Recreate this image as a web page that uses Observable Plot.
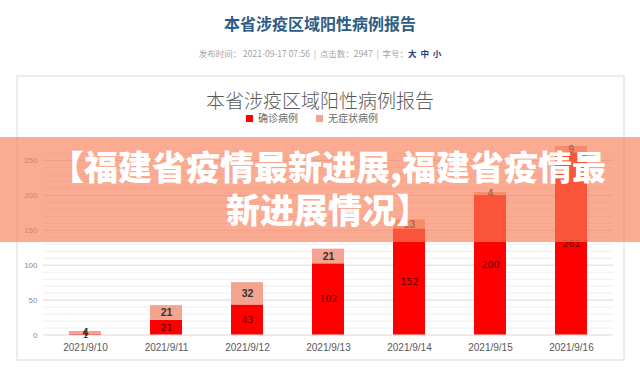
<!DOCTYPE html>
<html><head><meta charset="utf-8">
<script src="https://cdn.jsdelivr.net/npm/d3@7"></script>
<script src="https://cdn.jsdelivr.net/npm/@observablehq/plot@0.6"></script>
<style>
html,body{margin:0;padding:0;}
body{width:640px;height:378px;overflow:hidden;background:#fff;position:relative;font-family:"Noto Sans CJK SC","Noto Sans",sans-serif;}
#pagetitle{position:absolute;left:0;width:640px;top:12px;text-align:center;font-size:16px;font-weight:bold;color:#2f5c86;line-height:22px;}
#meta{position:absolute;left:0;width:640px;top:46px;text-align:center;font-size:8.5px;color:#a3a3a3;line-height:14px;white-space:pre;}
#meta b{color:#1f3c88;font-weight:bold;}
#box{position:absolute;left:16px;top:75px;width:605px;height:282px;border:2px solid #ececec;}
#ctitle{position:absolute;left:0;width:640px;top:88px;text-align:center;font-size:19px;font-weight:300;color:#595959;line-height:24px;}
#legend{position:absolute;left:-8px;width:640px;top:111px;text-align:center;font-size:10px;color:#6b6b6b;line-height:14px;}
#legend span.sw{display:inline-block;width:7px;height:7px;margin-right:5px;vertical-align:0px;}
#legend span.item{margin:0 9px;}
#chart{position:absolute;left:0;top:130px;}
#banner{position:absolute;left:0;top:137px;width:640px;height:105px;background:rgba(247,128,88,0.66);z-index:5;}
#btext{position:absolute;left:8px;width:640px;top:7px;text-align:center;font-size:34px;line-height:43px;font-weight:900;color:#fff;white-space:nowrap;}
</style></head><body>
<div id="pagetitle">本省涉疫区域阳性病例报告</div>
<div id="meta">发布时间： 2021-09-17 07:56  |  点击数：2947  |  字号：<b>大  中  小</b></div>
<div id="box"></div>
<div id="ctitle">本省涉疫区域阳性病例报告</div>
<div id="legend"></div>
<div id="chart"></div>
<div id="banner"><div id="btext">【福建省疫情最新进展,福建省疫情最<br>新进展情况】</div></div>
<script>
const dates = ["2021/9/10","2021/9/11","2021/9/12","2021/9/13","2021/9/14","2021/9/15","2021/9/16"];
const confirmed = [1, 21, 43, 102, 152, 200, 261];
const asymptomatic = [4, 21, 32, 21, 13, 4, 9];
const seriesNames = ["确诊病例", "无症状病例"];
const seriesColors = ["#ff0000", "#f4a38e"];
const yTicks = [0, 50, 100, 150, 200, 250];
const yMinorTicks = d3.range(10, 270, 10).filter(v => v % 50 !== 0);

const rows = dates.flatMap((d, i) => [
  {date: d, series: seriesNames[0], value: confirmed[i]},
  {date: d, series: seriesNames[1], value: asymptomatic[i]}
]);

document.getElementById("legend").innerHTML = seriesNames.map((s, i) =>
  `<span class="item"><span class="sw" style="background:${seriesColors[i]}"></span>${s}</span>`).join("");

const FONT = "Liberation Sans, Arial, sans-serif";
const plot = Plot.plot({
  width: 640,
  height: 230,
  marginLeft: 43,
  marginRight: 27,
  marginTop: 30,
  marginBottom: 25.5,
  style: "background: transparent; overflow: visible;",
  x: {domain: dates, paddingInner: 0.6, paddingOuter: 0.3},
  y: {domain: [0, 250]},
  color: {domain: seriesNames, range: seriesColors},
  marks: [
    Plot.gridY(yMinorTicks, {stroke: "#eeeeee", strokeOpacity: 1}),
    Plot.gridY(yTicks, {stroke: "#d9d9d9", strokeOpacity: 1}),
    Plot.barY(rows, {x: "date", y: "value", fill: "series", z: "series"}),
    Plot.text(rows, Plot.stackY({x: "date", y: "value", z: "series",
      text: d => d.series === seriesNames[0] ? d.value : null,
      fill: "#5a0000", fontSize: 9.5, fontFamily: "DejaVu Sans, sans-serif"})),
    Plot.text(rows, Plot.stackY({x: "date", y: "value", z: "series",
      text: d => d.series === seriesNames[1] ? d.value : null,
      fill: "#333333", fontSize: 10.5, fontWeight: "bold", fontFamily: FONT})),
    Plot.axisY(yTicks, {tickSize: 0, tickPadding: 6, color: "#8c8c8c", fontSize: 8, fontFamily: FONT, label: null}),
    Plot.axisX({tickSize: 0, tickPadding: 9, color: "#595959", fontSize: 10, fontFamily: FONT, label: null})
  ]
});
document.getElementById("chart").appendChild(plot);
</script>
</body></html>
